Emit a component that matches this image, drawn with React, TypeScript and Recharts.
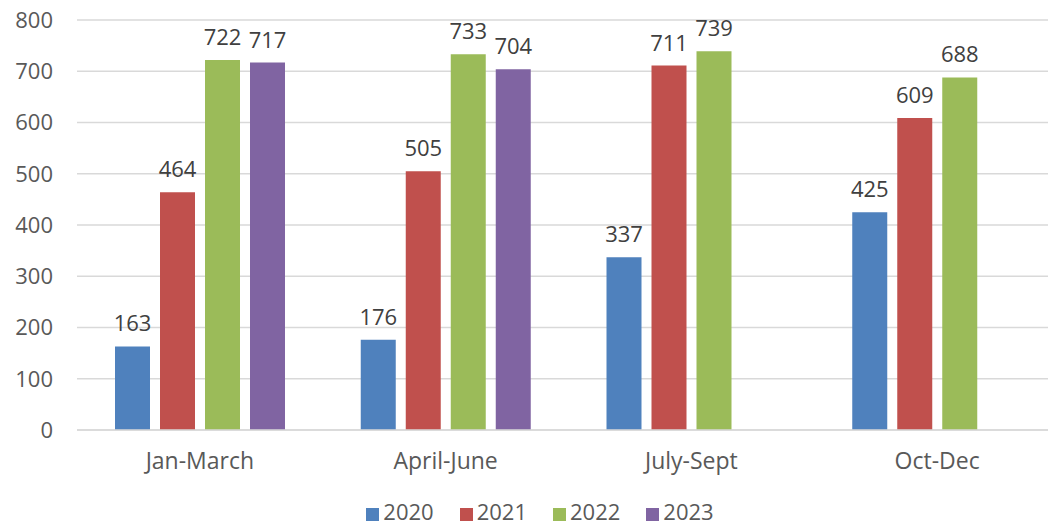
import React from 'react';
import { BarChart, Bar, XAxis, YAxis, CartesianGrid, Legend, LabelList } from 'recharts';

const QUARTERS = ['Jan-March', 'April-June', 'July-Sept', 'Oct-Dec'];
const Y2020 = [163, 176, 337, 425];
const Y2021 = [464, 505, 711, 609];
const Y2022 = [722, 733, 739, 688];
const Y2023: (number | null)[] = [717, 704, null, null];
const Y_TICKS = [0, 100, 200, 300, 400, 500, 600, 700, 800];

const SERIES = [
  { key: '2020', color: '#4F81BD' },
  { key: '2021', color: '#C0504D' },
  { key: '2022', color: '#9BBB59' },
  { key: '2023', color: '#8064A2' },
];

const data = QUARTERS.map((q, i) => ({
  name: q,
  '2020': Y2020[i],
  '2021': Y2021[i],
  '2022': Y2022[i],
  '2023': Y2023[i],
}));

const FONT = '"Open Sans", "Liberation Sans", sans-serif';

const App: React.FC = () => {
  return (
    <div style={{ position: 'absolute', left: 0, top: 0, width: 1048, height: 525, overflow: 'hidden', background: '#fff' }}>
      <BarChart
        width={1048}
        height={525}
        data={data}
        margin={{ top: 20, right: -12, bottom: 0, left: 0 }}
        barCategoryGap={38}
        barGap={10}
      >
        <CartesianGrid vertical={false} stroke="#d9d9d9" strokeWidth={1.5} />
        <XAxis
          dataKey="name"
          height={50}
          tickLine={false}
          axisLine={{ stroke: '#d9d9d9', strokeWidth: 1.5 }}
          tick={{ fill: '#595959', fontSize: 23, fontFamily: FONT }}
          tickMargin={17}
        />
        <YAxis
          width={77}
          domain={[0, 800]}
          ticks={Y_TICKS}
          axisLine={false}
          tickLine={false}
          tickMargin={18}
          tick={{ fill: '#595959', fontSize: 22, fontFamily: FONT }}
        />
        <Legend
          verticalAlign="bottom"
          height={45}
          iconType="square"
          iconSize={13}
          wrapperStyle={{
            left: 0,
            width: 1048,
            paddingLeft: 58,
            paddingTop: 19,
            boxSizing: 'border-box',
            fontSize: 22,
            fontFamily: FONT,
            lineHeight: '24px',
          }}
          formatter={(v: string) => <span style={{ color: '#595959', marginRight: 16 }}>{v}</span>}
        />
        {SERIES.map(s => (
          <Bar key={s.key} dataKey={s.key} fill={s.color} barSize={35} isAnimationActive={false}>
            <LabelList
              dataKey={s.key}
              position="top"
              offset={15}
              style={{ fill: '#404040', fontSize: 22, fontFamily: FONT }}
            />
          </Bar>
        ))}
      </BarChart>
    </div>
  );
};

export default App;
